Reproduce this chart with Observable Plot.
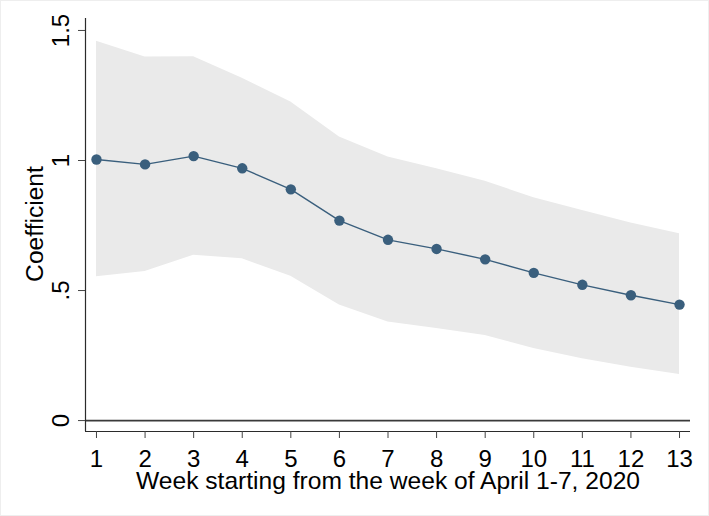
<!DOCTYPE html>
<html>
<head>
<meta charset="utf-8">
<script src="https://cdn.jsdelivr.net/npm/d3@7"></script>
<script src="https://cdn.jsdelivr.net/npm/@observablehq/plot@0.6"></script>
<style>
  html, body { margin: 0; padding: 0; background: #fff; }
  #chart svg { display: block; outline: 1px solid #eeeeee; outline-offset: -1px; }
</style>
</head>
<body>
<div id="chart"></div>
<script>
// Data
const weeks = [1, 2, 3, 4, 5, 6, 7, 8, 9, 10, 11, 12, 13];
const coef  = [1.004, 0.985, 1.017, 0.970, 0.889, 0.769, 0.695, 0.660, 0.620, 0.568, 0.522, 0.482, 0.446];
const upper = [1.459, 1.398, 1.399, 1.316, 1.225, 1.090, 1.013, 0.968, 0.920, 0.857, 0.808, 0.760, 0.718];
const lower = [0.553, 0.573, 0.636, 0.622, 0.555, 0.444, 0.379, 0.354, 0.327, 0.277, 0.238, 0.205, 0.177];
const yTicks = [0, 0.5, 1, 1.5];
const yTickLabels = ["0", ".5", "1", "1.5"];
const xTitle = "Week starting from the week of April 1-7, 2020";
const yTitle = "Coefficient";

const data = weeks.map((w, i) => ({week: w, coef: coef[i], lo: lower[i], hi: upper[i]}));
const yTickData = yTicks.map((v, i) => ({v, label: yTickLabels[i]}));

const xDomain = [0.774, 13.226];
const yDomain = [-0.042, 1.546];
const navy = "#3a5f7d";
const font = "'Liberation Sans', Arial, sans-serif";

const chart = Plot.plot({
  width: 709,
  height: 516,
  marginLeft: 85,
  marginRight: 19,
  marginTop: 18,
  marginBottom: 85,
  style: {fontFamily: font, fontSize: "24px", color: "#000", background: "#fff"},
  x: {domain: xDomain},
  y: {domain: yDomain},
  marks: [
    Plot.areaY(data, {x: "week", y1: "lo", y2: "hi", fill: "#eaeaea", fillOpacity: 1}),
    Plot.ruleY([0], {stroke: "#3a3a3a", strokeWidth: 1.7}),
    Plot.lineY(data, {x: "week", y: "coef", stroke: navy, strokeWidth: 1.4}),
    Plot.dot(data, {x: "week", y: "coef", r: 5.2, fill: navy, stroke: "none"}),
    // axis lines
    Plot.ruleX([xDomain[0]], {stroke: "#2b2b2b", strokeWidth: 1.2}),
    Plot.ruleY([yDomain[0]], {stroke: "#2b2b2b", strokeWidth: 1.2}),
    // x axis
    Plot.axisX({ticks: weeks, tickSize: 7, tickPadding: 11, tickFormat: d => String(d),
      fontSize: 24, stroke: "#444", label: null}),
    // y axis ticks
    Plot.axisY({ticks: yTicks, tickSize: 7, tickFormat: () => "", stroke: "#444", label: null}),
    // y tick labels rotated
    Plot.text(yTickData, {y: "v", text: "label", frameAnchor: "left", rotate: -90,
      textAnchor: "middle", lineAnchor: "bottom", dx: -17, fontSize: 24, fill: "#000"}),
    // axis titles
    Plot.text([xTitle], {frameAnchor: "bottom", textAnchor: "middle", lineAnchor: "bottom", dy: 57, fontSize: 24.6, fill: "#000"}),
    Plot.text([yTitle], {frameAnchor: "left", rotate: -90, textAnchor: "middle", lineAnchor: "bottom", dx: -43, dy: -1, fontSize: 24.6, fill: "#000"})
  ]
});
document.getElementById("chart").appendChild(chart);
</script>
</body>
</html>
